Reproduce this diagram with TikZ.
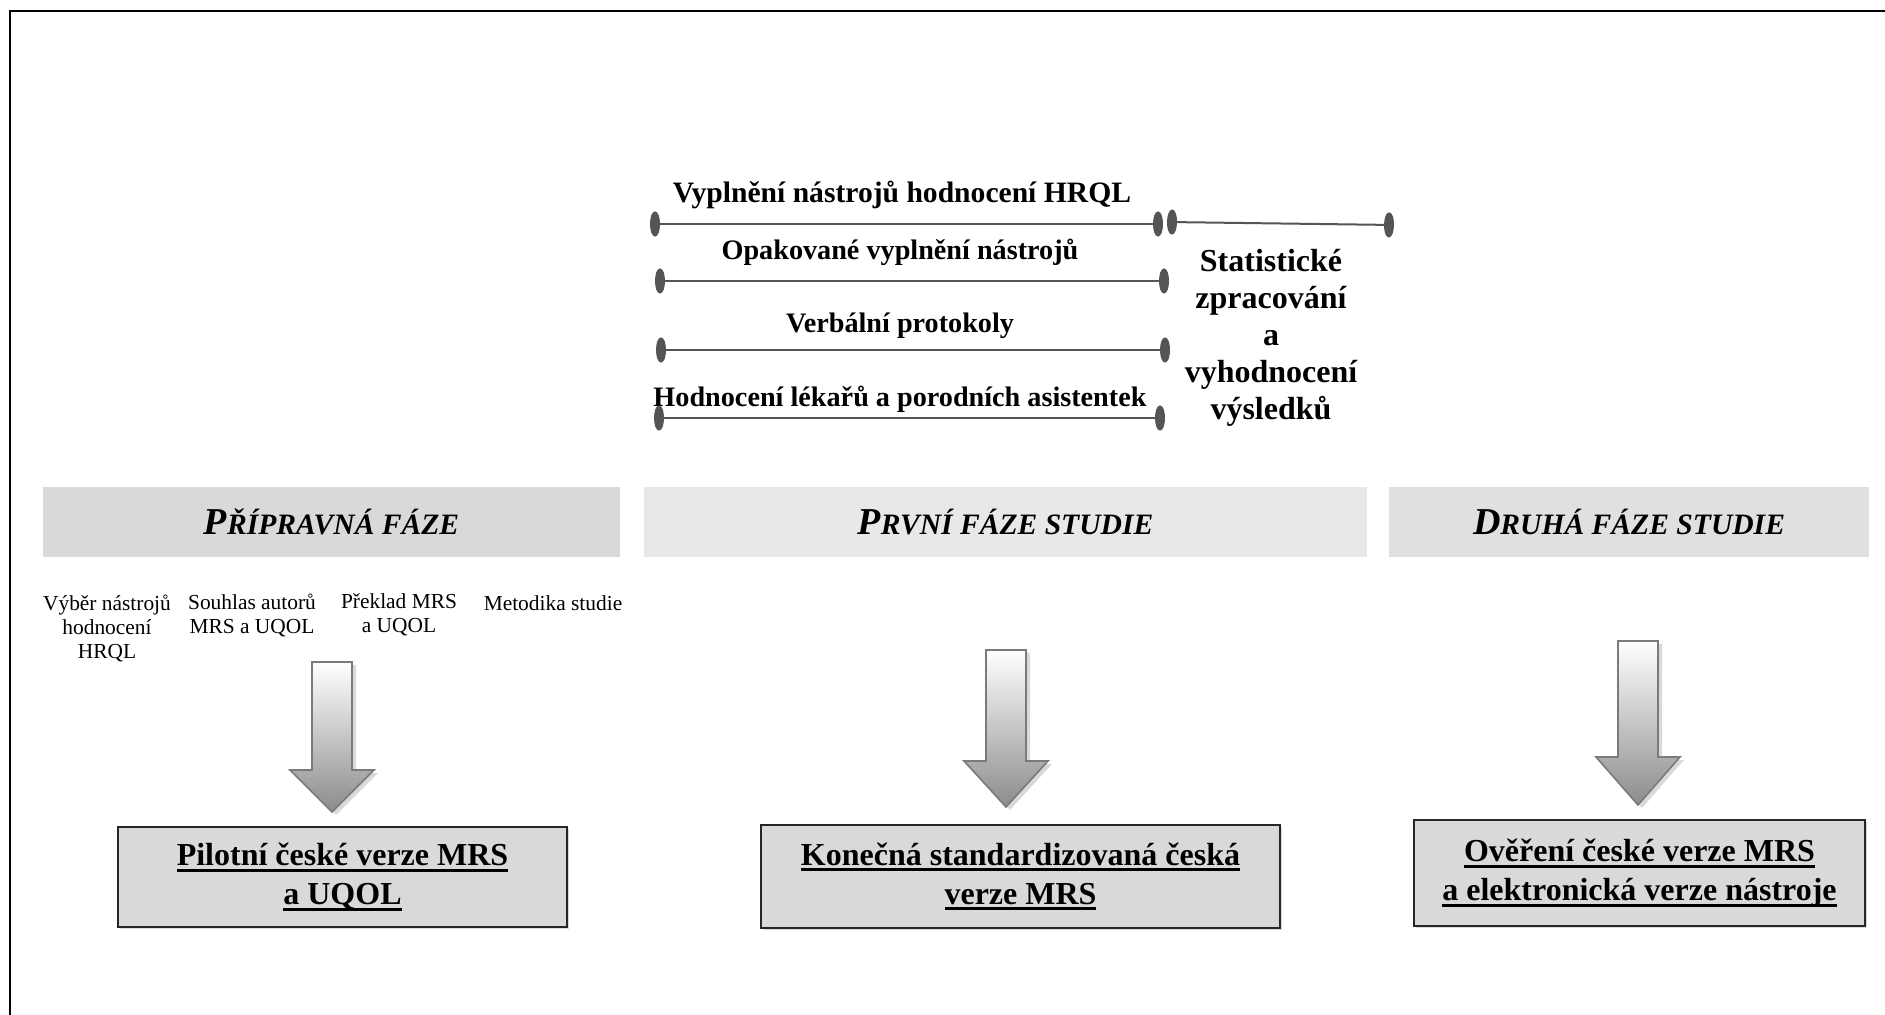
\documentclass[tikz,border=0pt]{standalone}
\usepackage{fontspec}
\setmainfont{Liberation Serif}
\usetikzlibrary{arrows.meta,shadings,shadows}

\definecolor{bandA}{HTML}{D9D9D9}
\definecolor{bandB}{HTML}{E8E8E8}
\definecolor{bandC}{HTML}{E0E0E0}
\definecolor{boxFill}{HTML}{D9D9D9}
\definecolor{lineGray}{HTML}{555555}
\definecolor{arrowEdge}{HTML}{7A7A7A}
\definecolor{arrowDark}{HTML}{8C8C8C}

% thick underline for the result boxes
\newcommand\ulbar[1]{\setbox0\hbox{#1}\leavevmode\rlap{\rule[-3.2pt]{\wd0}{1.6pt}}\box0}

% fake small caps for the phase headers
\newcommand\phaselbl[2]{{\fontsize{19}{21}\selectfont #1}{\fontsize{14.8}{16}\selectfont #2}}

% block arrow: x, top, base of head, tip
\newcommand\phasearrow[4]{%
  \path[arrowbody] (#1-20,#2) -- (#1+20,#2) -- (#1+20,#3) -- (#1+42,#3)
    -- (#1,#4) -- (#1-42,#3) -- (#1-20,#3) -- cycle;}

\tikzset{
  tdot/.tip={Ellipse[length=5pt,width=12.5pt]},
  timeline/.style={draw=lineGray, line width=1pt, {tdot}-{tdot}},
  rowlabel/.style={font=\bfseries\fontsize{14.1}{16}\selectfont, inner sep=0pt},
  band/.style={inner sep=0pt, minimum height=35pt, font=\bfseries\itshape},
  task/.style={align=center, inner sep=0pt, font=\fontsize{10.7}{12}\selectfont},
  result/.style={draw=black!85, line width=1pt, fill=boxFill, align=center,
    font=\bfseries\fontsize{16}{19.5}\selectfont,
    drop shadow={shadow xshift=1pt, shadow yshift=-1pt, opacity=.3}},
  arrowbody/.style={draw=arrowEdge, line width=.8pt, top color=white, bottom color=arrowDark,
    drop shadow={shadow xshift=2pt, shadow yshift=-1.5pt, opacity=.3}}
}

\begin{document}
\begin{tikzpicture}[x=0.5pt, y=-0.5pt]
\useasboundingbox (0,0) rectangle (1885,1015);

% frame
\draw[line width=1.2pt] (10,1015) -- (10,11) -- (1885,11);

% timelines
\node[rowlabel, font=\bfseries\fontsize{14.8}{16}\selectfont] (fill) at (902,195) {Vyplnění nástrojů hodnocení HRQL};
\coordinate (fill-a) at (650,224);
\coordinate (fill-b) at (1163,224);
\coordinate (stat-a) at (1167,222);
\coordinate (stat-b) at (1394,225);
\draw[timeline] (fill-a) -- (fill-b);
\draw[timeline] (stat-a) -- (stat-b);

\node[rowlabel] (repeat) at (900,252) {Opakované vyplnění nástrojů};
\coordinate (repeat-a) at (655,281);
\coordinate (repeat-b) at (1169,281);
\draw[timeline] (repeat-a) -- (repeat-b);

\node[rowlabel] (verbal) at (900,326) {Verbální protokoly};
\coordinate (verbal-a) at (656,350);
\coordinate (verbal-b) at (1170,350);
\draw[timeline] (verbal-a) -- (verbal-b);

\node[rowlabel] (rating) at (900,399) {Hodnocení lékařů a porodních asistentek};
\coordinate (rating-a) at (654,418);
\coordinate (rating-b) at (1165,418);
\draw[timeline] (rating-a) -- (rating-b);

\node[align=center, inner sep=0pt, font=\bfseries\fontsize{16}{18.5}\selectfont] (stat) at (1271,338)
  {Statistické\\zpracování\\a\\vyhodnocení\\výsledků};

% phase headers
\node[band, fill=bandA, minimum width=288.5pt] (prep) at (331.5,522) {\phaselbl{P}{ŘÍPRAVNÁ FÁZE}};
\node[band, fill=bandB, minimum width=361.5pt] (first) at (1005.5,522) {\phaselbl{P}{RVNÍ FÁZE STUDIE}};
\node[band, fill=bandC, minimum width=240pt] (second) at (1629,522) {\phaselbl{D}{RUHÁ FÁZE STUDIE}};

% preparatory tasks
\node[task] (choice) at (107,628) {Výběr nástrojů\\hodnocení\\HRQL};
\node[task] (consent) at (252,615) {Souhlas autorů\\MRS a UQOL};
\node[task] (transl) at (399,615) {Překlad MRS\\a UQOL};
\node[task] (method) at (553,603) {Metodika studie};

% arrows
\phasearrow{332}{662}{770}{812}
\phasearrow{1006}{650}{761}{807}
\phasearrow{1638}{641}{757}{805}

% results
\node[result, minimum width=224.5pt, minimum height=50pt] (pilot) at (342.5,877)
  {\ulbar{Pilotní české verze MRS}\\\ulbar{a UQOL}};
\node[result, minimum width=259.5pt, minimum height=51.5pt] (final) at (1020.5,876.5)
  {\ulbar{Konečná standardizovaná česká}\\\ulbar{verze MRS}};
\node[result, minimum width=225.5pt, minimum height=53pt] (valid) at (1639.5,873)
  {\ulbar{Ověření české verze MRS}\\\ulbar{a elektronická verze nástroje}};
\end{tikzpicture}
\end{document}
